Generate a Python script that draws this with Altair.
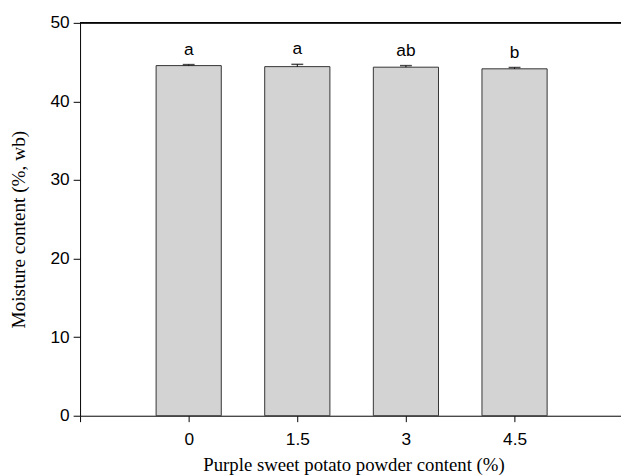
import altair as alt
import pandas as pd

# Data
powder = [0, 1.5, 3, 4.5]
moisture = [44.56, 44.43, 44.36, 44.15]
errors = [0.13, 0.29, 0.20, 0.17]
letters = ["a", "a", "ab", "b"]
bar_width = 0.9

x_ticks = [-1.5, 0, 1.5, 3, 4.5]
y_ticks = [0, 10, 20, 30, 40, 50]

df = pd.DataFrame({
    "powder": powder,
    "moisture": moisture,
    "err": errors,
    "letter": letters,
})
df["xlo"] = df["powder"] - bar_width / 2
df["xhi"] = df["powder"] + bar_width / 2
df["top"] = df["moisture"] + df["err"]

W = 548
H = 398
SANS = "Liberation Sans"
SERIF = "Liberation Serif"
LABEL_SIZE = 17.5

xscale = alt.Scale(domain=[-1.5, 5.97], nice=False, zero=False)
yscale = alt.Scale(domain=[0, 50], nice=False)

xaxis = alt.Axis(
    values=x_ticks,
    labelExpr="datum.value < 0 ? '' : '' + datum.value",
    title="Purple sweet potato powder content (%)",
    grid=False,
    tickSize=6,
    labelPadding=23,
    labelBaseline="alphabetic",
    labelFont=SANS,
    labelFontSize=LABEL_SIZE,
    labelColor="black",
    titleFont=SERIF,
    titleFontSize=19,
    titleFontWeight="normal",
    titleColor="black",
    titleX=277,
    titleY=55,
    titleBaseline="alphabetic",
    titleAlign="center",
    domainColor="black",
    tickColor="black",
)

yaxis = alt.Axis(
    values=y_ticks,
    title="Moisture content (%, wb)",
    grid=False,
    tickSize=7,
    labelPadding=4,
    labelFont=SANS,
    labelFontSize=LABEL_SIZE,
    labelColor="black",
    titleFont=SERIF,
    titleFontSize=19.5,
    titleFontWeight="normal",
    titleColor="black",
    titleAngle=-90,
    titleX=-56,
    titleY=209,
    titleBaseline="alphabetic",
    titleAlign="center",
    domainColor="black",
    tickColor="black",
)

base = alt.Chart(df)

bars = base.mark_bar(fill="#d3d3d3", stroke="#333333", strokeWidth=1).encode(
    x=alt.X("xlo:Q", scale=xscale, axis=xaxis),
    x2="xhi",
    y=alt.Y("moisture:Q", scale=yscale, axis=yaxis),
    y2=alt.datum(0),
)

err_rule = base.mark_rule(color="black", strokeWidth=1).encode(
    x=alt.X("powder:Q", scale=xscale),
    y=alt.Y("moisture:Q", scale=yscale),
    y2="top",
)

caps = base.mark_tick(color="black", size=12, thickness=1.5, orient="horizontal").encode(
    x=alt.X("powder:Q", scale=xscale),
    y=alt.Y("top:Q", scale=yscale),
)

labels = base.mark_text(font=SANS, fontSize=LABEL_SIZE, color="black", baseline="alphabetic", dy=-10).encode(
    x=alt.X("powder:Q", scale=xscale),
    y=alt.Y("top:Q", scale=yscale),
    text="letter:N",
)

top_line = alt.Chart(df).mark_rule(color="black", strokeWidth=1).encode(
    y=alt.value(0),
    x=alt.value(0),
    x2=alt.value(W),
)

chart = alt.layer(bars, err_rule, caps, labels, top_line).properties(
    width=W,
    height=H,
    autosize=alt.AutoSizeParams(type="none"),
    padding={"left": 73, "top": 12, "right": 0, "bottom": 58},
).configure_view(stroke=None)

chart.save("out.html", embed_options={"renderer": "svg", "actions": False})
